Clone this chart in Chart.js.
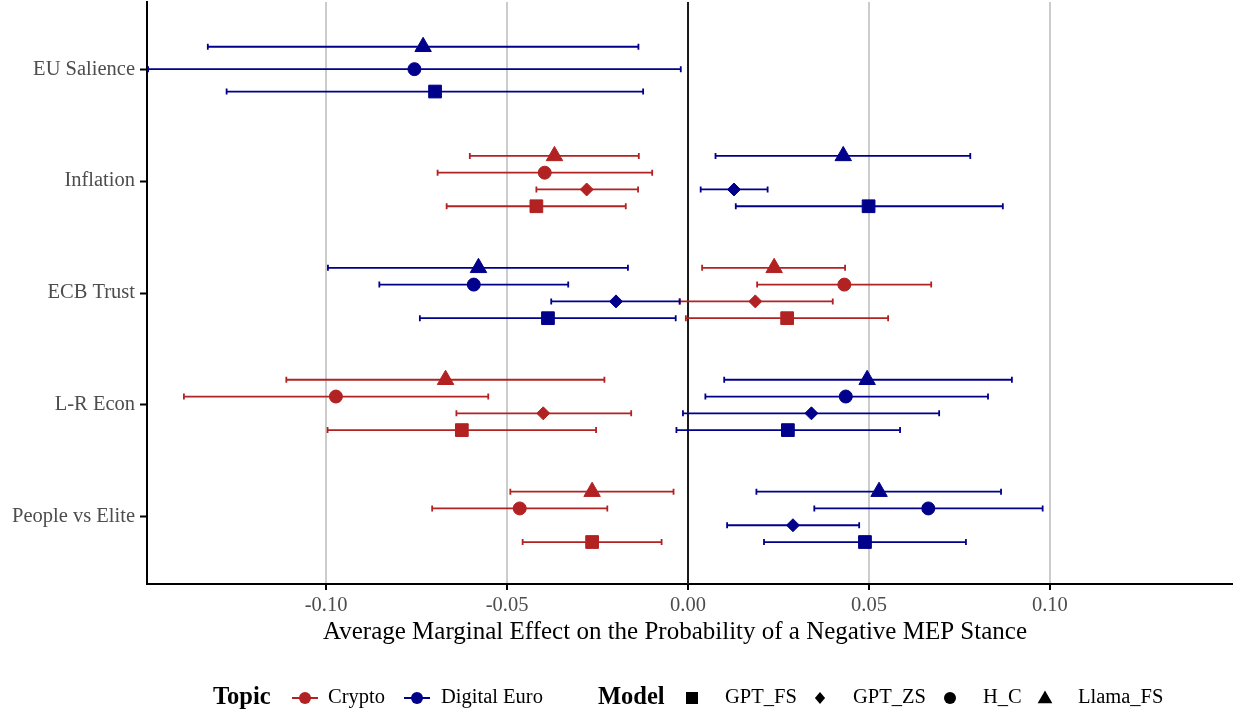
<!DOCTYPE html>
<html>
<head>
<meta charset="utf-8">
<script src="https://cdn.jsdelivr.net/npm/chart.js@4.4.1/dist/chart.umd.min.js"></script>
<style>
  html, body { margin: 0; padding: 0; background: #ffffff; }
  #wrap { width: 1233px; height: 717px; position: relative; }
</style>
</head>
<body>
<div id="wrap"><canvas id="c" width="1233" height="717"></canvas></div>
<script>
// ---------------- data ----------------
const categories = ['EU Salience', 'Inflation', 'ECB Trust', 'L-R Econ', 'People vs Elite'];
const topicNames = ['Crypto', 'Digital Euro'];
const modelNames = ['GPT_FS', 'GPT_ZS', 'H_C', 'Llama_FS'];
const xTicks = [-0.10, -0.05, 0.00, 0.05, 0.10];

// [estimate, lower, upper] per category (null = not estimated)
const crypto_Llama_FS = [null, [-0.0369, -0.0603, -0.0136], [0.0238, 0.0039, 0.0434], [-0.0670, -0.1110, -0.0231], [-0.0265, -0.0491, -0.0040]];
const crypto_H_C      = [null, [-0.0396, -0.0692, -0.0099], [0.0432, 0.0191, 0.0672], [-0.0973, -0.1393, -0.0552], [-0.0465, -0.0707, -0.0223]];
const crypto_GPT_ZS   = [null, [-0.0280, -0.0419, -0.0138], [0.0186, -0.0023, 0.0400], [-0.0400, -0.0640, -0.0157], null];
const crypto_GPT_FS   = [null, [-0.0419, -0.0667, -0.0172], [0.0274, -0.0006, 0.0553], [-0.0625, -0.0996, -0.0254], [-0.0265, -0.0457, -0.0073]];

const deuro_Llama_FS  = [[-0.0732, -0.1327, -0.0137], [0.0429, 0.0076, 0.0780], [-0.0579, -0.0995, -0.0166], [0.0495, 0.0100, 0.0895], [0.0528, 0.0189, 0.0865]];
const deuro_H_C       = [[-0.0756, -0.1492, -0.0020], null, [-0.0592, -0.0853, -0.0331], [0.0436, 0.0048, 0.0829], [0.0664, 0.0349, 0.0980]];
const deuro_GPT_ZS    = [null, [0.0127, 0.0035, 0.0220], [-0.0199, -0.0378, -0.0023], [0.0341, -0.0014, 0.0694], [0.0290, 0.0108, 0.0473]];
const deuro_GPT_FS    = [[-0.0699, -0.1275, -0.0124], [0.0499, 0.0132, 0.0870], [-0.0387, -0.0741, -0.0034], [0.0276, -0.0032, 0.0586], [0.0489, 0.0210, 0.0768]];

// ---------------- styling ----------------
const FONT = '"Liberation Serif", "Times New Roman", "DejaVu Serif", serif';
const topicColors = { 'Crypto': '#B22222', 'Digital Euro': '#00008B' };
const modelStyle = {
  'GPT_FS':   { pointStyle: 'rect',     radius: 9 },
  'GPT_ZS':   { pointStyle: 'rectRot',  radius: 6.5 },
  'H_C':      { pointStyle: 'circle',   radius: 6.5 },
  'Llama_FS': { pointStyle: 'triangle', radius: 9.5 }
};
const series = {
  'Crypto':       { 'Llama_FS': crypto_Llama_FS, 'H_C': crypto_H_C, 'GPT_ZS': crypto_GPT_ZS, 'GPT_FS': crypto_GPT_FS },
  'Digital Euro': { 'Llama_FS': deuro_Llama_FS,  'H_C': deuro_H_C,  'GPT_ZS': deuro_GPT_ZS,  'GPT_FS': deuro_GPT_FS }
};

// dodge: models top-to-bottom within each category
const dodgeOrder = ['Llama_FS', 'H_C', 'GPT_ZS', 'GPT_FS'];
const dodgeWidth = 0.6;
function dodgeOffset(catIdx, model) {
  const present = dodgeOrder.filter(m => topicNames.some(t => series[t][m][catIdx]));
  const n = present.length;
  const k = present.indexOf(model);
  return (k - (n - 1) / 2) * dodgeWidth / n;
}

const datasets = [];
topicNames.forEach(topic => {
  dodgeOrder.slice().reverse().forEach(model => {
    const arr = series[topic][model];
    const data = [];
    arr.forEach((v, i) => {
      if (v) data.push({ x: v[0], y: i + 1 + dodgeOffset(i, model), lo: v[1], hi: v[2] });
    });
    datasets.push({
      label: topic + ' ' + model,
      data: data,
      pointStyle: modelStyle[model].pointStyle,
      pointRadius: modelStyle[model].radius,
      pointHoverRadius: modelStyle[model].radius,
      backgroundColor: topicColors[topic],
      borderColor: topicColors[topic],
      borderWidth: 1,
      showLine: false
    });
  });
});

// ---------------- plugins ----------------
const errorBars = {
  id: 'errorBars',
  beforeDatasetsDraw(chart) {
    const ctx = chart.ctx;
    const xs = chart.scales.x, ys = chart.scales.y;
    const area = chart.chartArea;
    // zero reference line
    ctx.save();
    ctx.strokeStyle = '#1a1a1a';
    ctx.lineWidth = 2;
    const x0 = xs.getPixelForValue(0);
    ctx.beginPath();
    ctx.moveTo(x0, area.top);
    ctx.lineTo(x0, area.bottom);
    ctx.stroke();
    // error bars
    chart.data.datasets.forEach(ds => {
      ctx.strokeStyle = ds.borderColor;
      ctx.lineWidth = 1.8;
      ds.data.forEach(p => {
        const y = ys.getPixelForValue(p.y);
        const a = xs.getPixelForValue(p.lo), b = xs.getPixelForValue(p.hi);
        ctx.beginPath();
        ctx.moveTo(a, y); ctx.lineTo(b, y);
        ctx.moveTo(a, y - 3); ctx.lineTo(a, y + 3);
        ctx.moveTo(b, y - 3); ctx.lineTo(b, y + 3);
        ctx.stroke();
      });
    });
    ctx.restore();
  }
};

function drawShape(ctx, style, x, y, r, color) {
  ctx.fillStyle = color;
  ctx.beginPath();
  if (style === 'rect') {
    const s = r * Math.SQRT1_2;
    ctx.rect(x - s, y - s, 2 * s, 2 * s);
  } else if (style === 'rectRot') {
    ctx.moveTo(x, y - r); ctx.lineTo(x + r * 0.85, y); ctx.lineTo(x, y + r); ctx.lineTo(x - r * 0.85, y); ctx.closePath();
  } else if (style === 'circle') {
    ctx.arc(x, y, r, 0, Math.PI * 2);
  } else if (style === 'triangle') {
    ctx.moveTo(x, y - r);
    ctx.lineTo(x + r * Math.sin(Math.PI / 3), y + r / 2);
    ctx.lineTo(x - r * Math.sin(Math.PI / 3), y + r / 2);
    ctx.closePath();
  }
  ctx.fill();
}

const extras = {
  id: 'extras',
  afterDraw(chart) {
    const ctx = chart.ctx;
    ctx.save();
    // x axis title
    ctx.fillStyle = '#000';
    ctx.font = '25px ' + FONT;
    ctx.textAlign = 'center';
    ctx.textBaseline = 'middle';
    ctx.fillText('Average Marginal Effect on the Probability of a Negative MEP Stance', 675, 632);

    // legend
    const ly = 698;
    ctx.textAlign = 'left';
    ctx.font = 'bold 24.5px ' + FONT;
    ctx.fillText('Topic', 213, ly);
    ctx.fillText('Model', 598, ly);
    ctx.font = '20.5px ' + FONT;
    const topicPos = [[305, 328], [417, 441]];
    topicNames.forEach((t, i) => {
      const [cx, tx] = topicPos[i];
      ctx.strokeStyle = topicColors[t];
      ctx.lineWidth = 2;
      ctx.beginPath(); ctx.moveTo(cx - 13, ly); ctx.lineTo(cx + 13, ly); ctx.stroke();
      drawShape(ctx, 'circle', cx, ly, 6, topicColors[t]);
      ctx.fillStyle = '#000';
      ctx.fillText(t, tx, ly);
    });
    const modelPos = [[692, 725], [820, 853], [950, 983], [1045, 1078]];
    modelNames.forEach((m, i) => {
      const [cx, tx] = modelPos[i];
      const st = modelStyle[m];
      const r = m === 'GPT_FS' ? 8.5 : (m === 'Llama_FS' ? 8.5 : 6);
      drawShape(ctx, st.pointStyle, cx, ly + (m === 'Llama_FS' ? 1 : 0), r, '#000');
      ctx.fillStyle = '#000';
      ctx.fillText(m, tx, ly);
    });
    ctx.restore();
  }
};

// ---------------- chart ----------------
new Chart(document.getElementById('c'), {
  type: 'scatter',
  data: { datasets: datasets },
  options: {
    responsive: false,
    animation: false,
    devicePixelRatio: 1,
    layout: { autoPadding: false, padding: { top: 2, right: 0, bottom: 0, left: 0 } },
    plugins: { legend: { display: false }, tooltip: { enabled: false } },
    scales: {
      x: {
        type: 'linear',
        position: 'bottom',
        min: -0.1495,
        max: 0.1506,
        afterFit(s) { s.height = 133; s.paddingLeft = 0; s.paddingRight = 0; },
        afterBuildTicks(s) { s.ticks = xTicks.map(v => ({ value: v })); },
        border: { display: true, color: '#000', width: 2 },
        grid: {
          color: c => (c.tick && Math.abs(c.tick.value) < 1e-9) ? 'rgba(0,0,0,0)' : '#CCCCCC',
          lineWidth: 2,
          tickColor: '#000',
          tickLength: 6,
          tickWidth: 2
        },
        ticks: {
          autoSkip: false,
          maxRotation: 0,
          padding: 3,
          color: '#4D4D4D',
          font: { family: FONT, size: 20.5 },
          callback: v => Number(v).toFixed(2)
        }
      },
      y: {
        type: 'linear',
        position: 'left',
        min: 0.4,
        max: 5.6,
        reverse: true,
        afterFit(s) { s.width = 147; s.paddingTop = 0; s.paddingBottom = 0; },
        afterBuildTicks(s) { s.ticks = categories.map((c, i) => ({ value: i + 1 })); },
        border: { display: true, color: '#000', width: 2 },
        grid: {
          drawOnChartArea: false,
          tickColor: '#000',
          tickLength: 7,
          tickWidth: 2
        },
        ticks: {
          autoSkip: false,
          padding: 5,
          color: '#4D4D4D',
          font: { family: FONT, size: 20.5 },
          callback: v => categories[Math.round(v) - 1]
        }
      }
    }
  },
  plugins: [errorBars, extras]
});
</script>
</body>
</html>
